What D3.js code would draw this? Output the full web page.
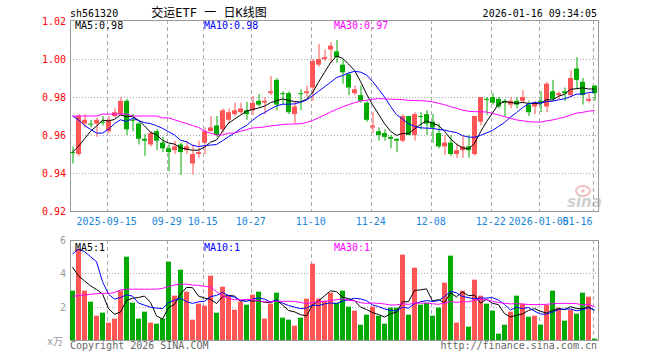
<!DOCTYPE html>
<html>
<head>
<meta charset="utf-8">
<script src="https://cdn.jsdelivr.net/npm/d3@7"></script>
<style>
  body { margin: 0; background: #fff; }
</style>
</head>
<body>
<div id="chart"></div>
<script>
// daily candles, 2025-09-05 .. 2026-01-16 (88 sessions)
const opens = [
  0.951, 0.950, 0.966, 0.966, 0.966, 0.967, 0.962, 0.970, 0.971, 0.978,
  0.968, 0.966, 0.958, 0.955, 0.962, 0.956, 0.953, 0.952, 0.955, 0.952,
  0.945, 0.950, 0.956, 0.962, 0.965, 0.963, 0.968, 0.971, 0.972, 0.973,
  0.973, 0.978, 0.977, 0.982, 0.989, 0.982, 0.982, 0.971, 0.982, 0.982,
  0.985, 0.997, 1.000, 1.005, 1.004, 0.997, 0.992, 0.982, 0.981, 0.977,
  0.964, 0.962, 0.961, 0.959, 0.958, 0.957, 0.970, 0.960, 0.970, 0.971,
  0.967, 0.961, 0.954, 0.956, 0.950, 0.952, 0.954, 0.950, 0.967, 0.979,
  0.980, 0.979, 0.978, 0.976, 0.978, 0.978, 0.976, 0.975, 0.978, 0.975,
  0.983, 0.981, 0.983, 0.981, 0.995, 0.988, 0.978, 0.986
];
const highs = [
  0.954, 0.971, 0.971, 0.968, 0.969, 0.970, 0.970, 0.974, 0.980, 0.979,
  0.971, 0.967, 0.9605, 0.962, 0.963, 0.959, 0.955, 0.957, 0.956, 0.957,
  0.955, 0.957, 0.964, 0.970, 0.970, 0.974, 0.974, 0.977, 0.977, 0.9775,
  0.9805, 0.9816, 0.980, 0.991, 0.990, 0.983, 0.983, 0.9775, 0.984, 0.986,
  1.000, 1.008, 1.005, 1.009, 1.010, 1.000, 0.993, 0.986, 0.986, 0.978,
  0.972, 0.964, 0.963, 0.960, 0.958, 0.971, 0.970, 0.972, 0.972, 0.973,
  0.971, 0.966, 0.960, 0.960, 0.9556, 0.9595, 0.960, 0.970, 0.980, 0.980,
  0.982, 0.980, 0.979, 0.980, 0.980, 0.9837, 0.978, 0.978, 0.983, 0.988,
  0.989, 0.983, 0.985, 0.994, 1.001, 0.990, 0.982, 0.986
];
const lows = [
  0.945, 0.949, 0.964, 0.964, 0.959, 0.965, 0.961, 0.969, 0.970, 0.960,
  0.962, 0.955, 0.949, 0.954, 0.952, 0.951, 0.941, 0.950, 0.939, 0.950,
  0.939, 0.948, 0.950, 0.962, 0.959, 0.961, 0.966, 0.970, 0.971, 0.968,
  0.9705, 0.975, 0.971, 0.981, 0.973, 0.976, 0.971, 0.966, 0.973, 0.980,
  0.978, 0.996, 0.999, 0.998, 0.998, 0.987, 0.981, 0.981, 0.977, 0.967,
  0.961, 0.957, 0.957, 0.953, 0.951, 0.956, 0.960, 0.957, 0.963, 0.960,
  0.956, 0.953, 0.9495, 0.949, 0.948, 0.948, 0.948, 0.949, 0.965, 0.9705,
  0.976, 0.974, 0.970, 0.974, 0.974, 0.977, 0.970, 0.971, 0.972, 0.972,
  0.978, 0.979, 0.978, 0.980, 0.984, 0.976, 0.977, 0.978
];
const closes = [
  0.951, 0.970, 0.968, 0.966, 0.968, 0.967, 0.968, 0.972, 0.978, 0.963,
  0.968, 0.958, 0.957, 0.961, 0.957, 0.953, 0.951, 0.954, 0.951, 0.954,
  0.950, 0.951, 0.962, 0.964, 0.960, 0.973, 0.972, 0.973, 0.974, 0.971,
  0.977, 0.976, 0.978, 0.983, 0.976, 0.982, 0.972, 0.975, 0.982, 0.983,
  0.999, 1.000, 1.001, 1.007, 1.001, 0.993, 0.985, 0.984, 0.978, 0.968,
  0.965, 0.960, 0.959, 0.958, 0.957, 0.970, 0.960, 0.971, 0.970, 0.966,
  0.964, 0.954, 0.956, 0.950, 0.952, 0.954, 0.952, 0.970, 0.980, 0.979,
  0.977, 0.975, 0.977, 0.978, 0.976, 0.980, 0.972, 0.977, 0.977, 0.987,
  0.979, 0.982, 0.982, 0.990, 0.989, 0.981, 0.979, 0.982
];
// volume, in 10k lots
const volumes = [
  2.96, 5.48, 2.96, 2.30, 1.46, 1.64, 1.04, 1.28, 2.96, 5.00,
  2.24, 1.28, 1.70, 1.04, 0.98, 1.28, 4.70, 2.66, 4.22, 2.90,
  1.22, 2.18, 2.06, 3.86, 1.64, 3.20, 2.66, 1.82, 2.30, 2.12,
  2.72, 2.90, 1.28, 2.18, 2.84, 1.34, 1.22, 0.86, 1.34, 2.48,
  4.58, 2.48, 2.36, 2.84, 2.24, 2.96, 2.00, 1.76, 0.92, 1.52,
  2.00, 1.46, 0.98, 1.94, 1.94, 5.12, 1.52, 4.34, 2.12, 2.24,
  1.46, 1.94, 3.44, 5.06, 1.04, 2.96, 0.80, 3.62, 2.66, 2.18,
  1.76, 0.38, 0.92, 1.70, 2.66, 2.18, 1.40, 1.46, 0.92, 2.12,
  2.96, 1.94, 1.16, 1.82, 1.58, 2.84, 2.60, 0.08
];

const ma5Head = [0.951, 0.954, 0.958, 0.962];
const ma10Head = [0.970, 0.968, 0.965, 0.963, 0.961, 0.961, 0.963, 0.966, 0.968];
const ma30Head = [
  0.970, 0.970, 0.970, 0.970, 0.970, 0.971, 0.971, 0.971, 0.971, 0.971,
  0.970, 0.970, 0.970, 0.970, 0.970, 0.969, 0.969, 0.968, 0.967, 0.966,
  0.965, 0.964, 0.962, 0.961, 0.960, 0.960, 0.961, 0.961, 0.962
];
const vma5Head = [4.38, 3.85, 3.55, 3.25];
const vma10Head = [5.16, 5.45, 5.30, 5.00, 4.70, 3.50, 2.75, 2.45, 2.55];
const vma30Head = [
  2.62, 2.66, 2.70, 2.74, 2.78, 2.80, 2.80, 2.85, 3.00, 3.05,
  3.05, 3.05, 3.05, 3.05, 3.05, 3.10, 3.20, 3.30, 3.36, 3.35,
  3.30, 3.28, 3.22, 3.18, 2.90, 2.65, 2.50, 2.42, 2.40
];

const tickIdx = [6, 16, 22, 30, 40, 50, 60, 70, 78, 87];
const tickLabels = ["2025-09-15", "09-29", "10-15", "10-27", "11-10", "11-24", "12-08", "12-22", "2026-01-05", "01-16"];
const priceTicks = [1.02, 1.00, 0.98, 0.96, 0.94, 0.92];
const volTicks = [6, 4, 2];

const RED = "#ff5555", GREEN = "#00aa00";
const GRID = "#aaaaaa", BORDER = "#999999";

const movAvg = (vals, n, head) =>
  vals.map((v, i) => i < n - 1 ? head[i] : d3.mean(vals.slice(i - n + 1, i + 1)));

const up = i => closes[i] > opens[i];

const svg = d3.select("#chart")
  .append("svg")
  .attr("width", 660)
  .attr("height", 360)
  .style("font-family", "'DejaVu Sans Mono', monospace")
  .style("font-size", "10px");

const left = 70, right = 598;
const x = d3.scaleBand().domain(d3.range(closes.length)).range([left, right]);
const cx = i => x(i) + 2.5;
const y = d3.scaleLinear().domain([0.92, 1.02]).range([211, 21]);
const yv = d3.scaleLinear().domain([0, 6]).range([340, 240]);

// ---- header
svg.append("text").attr("x", left).attr("y", 17).text("sh561320");
svg.append("text").attr("x", 209).attr("y", 17).attr("text-anchor", "middle")
  .style("font-family", "'DejaVu Sans Mono', 'Noto Sans CJK SC', monospace")
  .style("font-size", "12px")
  .text("交运ETF 一 日K线图");
svg.append("text").attr("x", 597).attr("y", 17).attr("text-anchor", "end")
  .text("2026-01-16 09:34:05");

// ---- grids
const gridX = tickIdx.map(i => x(i) + 0.7);

const drawPanel = (top, bottom, hLines, ys) => {
  svg.append("g").selectAll("line")
    .data(hLines)
    .join("line")
    .attr("x1", left).attr("x2", right)
    .attr("y1", d => Math.round(ys(d)) + 0.5).attr("y2", d => Math.round(ys(d)) + 0.5)
    .attr("stroke", GRID).attr("stroke-dasharray", "1,2");
  svg.append("g").selectAll("line")
    .data(gridX)
    .join("line")
    .attr("x1", d => Math.round(d) + 0.5).attr("x2", d => Math.round(d) + 0.5)
    .attr("y1", top).attr("y2", bottom)
    .attr("stroke", GRID).attr("stroke-dasharray", "4,3");
  svg.append("rect")
    .attr("x", left + 0.5).attr("y", top + 0.5)
    .attr("width", right - left).attr("height", bottom - top)
    .attr("fill", "none").attr("stroke", BORDER);
};
drawPanel(20, 211, [1.00, 0.98, 0.96, 0.94], y);
drawPanel(240, 340, [4, 2], yv);

// ---- price axis labels
svg.append("g").selectAll("text")
  .data(priceTicks)
  .join("text")
  .attr("x", 66).attr("y", d => y(d) + 4)
  .attr("text-anchor", "end")
  .attr("fill", "#ff0000")
  .text(d => d.toFixed(2));

// ---- date labels
svg.append("g").selectAll("text")
  .data(tickIdx)
  .join("text")
  .attr("x", (d, k) => k === tickIdx.length - 1 ? 592.5 : gridX[k])
  .attr("y", 225)
  .attr("text-anchor", (d, k) => k === tickIdx.length - 1 ? "end" : "middle")
  .attr("fill", "#1a86d6")
  .text((d, k) => tickLabels[k]);

// ---- candles
const candles = svg.append("g").selectAll("g")
  .data(d3.range(closes.length))
  .join("g")
  .attr("stroke", i => up(i) ? RED : GREEN)
  .attr("fill", i => up(i) ? RED : GREEN);

candles.append("line")
  .attr("x1", i => cx(i) + 0.5).attr("x2", i => cx(i) + 0.5)
  .attr("y1", i => y(highs[i])).attr("y2", i => y(lows[i]));

candles.append("rect")
  .attr("stroke", "none")
  .attr("x", i => x(i))
  .attr("width", 5)
  .attr("y", i => y(Math.max(opens[i], closes[i])))
  .attr("height", i => Math.max(1, Math.abs(y(opens[i]) - y(closes[i]))));

// ---- moving averages
const lineGen = (yScale) => d3.line().x((d, i) => cx(i)).y(d => yScale(d));

const maSet = [
  [movAvg(closes, 5, ma5Head), "#000000"],
  [movAvg(closes, 10, ma10Head), "#0000ff"],
  [movAvg(closes, 30, ma30Head), "#ff00ff"]
];
maSet.forEach(([vals, col]) => {
  svg.append("path").datum(vals)
    .attr("d", lineGen(y))
    .attr("fill", "none").attr("stroke", col).attr("stroke-width", 1);
});

// ---- volume bars
svg.append("g").selectAll("rect")
  .data(volumes)
  .join("rect")
  .attr("x", (d, i) => x(i))
  .attr("width", 5)
  .attr("y", d => yv(d))
  .attr("height", d => yv(0) - yv(d))
  .attr("fill", (d, i) => up(i) ? RED : GREEN);

const vmaSet = [
  [movAvg(volumes, 5, vma5Head), "#000000"],
  [movAvg(volumes, 10, vma10Head), "#0000ff"],
  [movAvg(volumes, 30, vma30Head), "#ff00ff"]
];
vmaSet.forEach(([vals, col]) => {
  svg.append("path").datum(vals)
    .attr("d", lineGen(yv))
    .attr("fill", "none").attr("stroke", col).attr("stroke-width", 1);
});

// ---- volume axis labels
svg.append("g").selectAll("text")
  .data(volTicks)
  .join("text")
  .attr("x", 66).attr("y", d => yv(d) + 4)
  .attr("text-anchor", "end")
  .attr("fill", "#999")
  .text(d => d);
svg.append("text").attr("x", 63).attr("y", 345).attr("text-anchor", "end")
  .attr("fill", "#999")
  .style("font-family", "'DejaVu Sans Mono', 'Noto Sans CJK SC', monospace")
  .text("x万");

// ---- legends
const legend = (yy, items) => items.forEach(([tx, lx, col]) =>
  svg.append("text").attr("x", lx).attr("y", yy).attr("fill", col).text(tx));
legend(29, [["MA5:0.98", 75, "#000"], ["MA10:0.98", 204, "#0000ff"], ["MA30:0.97", 334, "#ff00ff"]]);
legend(251, [["MA5:1", 75, "#000"], ["MA10:1", 204, "#0000ff"], ["MA30:1", 334, "#ff00ff"]]);

// ---- footer
svg.append("text").attr("x", left).attr("y", 349).attr("fill", "#666")
  .text("Copyright 2026 SINA.COM");
svg.append("text").attr("x", 597).attr("y", 349).attr("text-anchor", "end").attr("fill", "#666")
  .text("http://finance.sina.com.cn");

// ---- sina watermark
const wm = svg.append("g").attr("opacity", 0.45);
wm.append("ellipse").attr("cx", 583).attr("cy", 191).attr("rx", 7).attr("ry", 5)
  .attr("fill", "none").attr("stroke", "#e87070").attr("stroke-width", 2);
wm.append("circle").attr("cx", 583).attr("cy", 191).attr("r", 1.8).attr("fill", "#e87070");
wm.append("text").attr("x", 567).attr("y", 207)
  .style("font-family", "'DejaVu Sans', sans-serif")
  .style("font-size", "15px").style("font-weight", "bold").style("font-style", "italic")
  .attr("fill", "#999").text("sina");
</script>
</body>
</html>
